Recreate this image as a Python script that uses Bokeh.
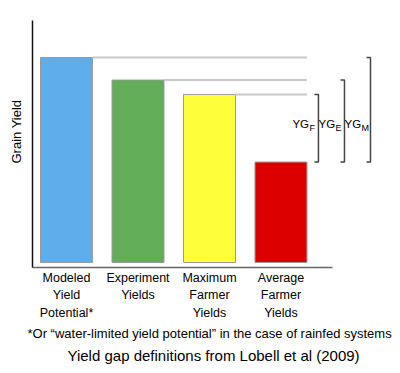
from bokeh.plotting import figure
from bokeh.models import Range1d, FixedTicker, Title, ColumnDataSource
from bokeh.core.properties import value
from bokeh.embed import file_html
from bokeh.resources import INLINE

# ---- data ----
categories = ["Modeled\nYield\nPotential*", "Experiment\nYields", "Maximum\nFarmer\nYields", "Average\nFarmer\nYields"]
yields = [10.0, 8.9, 8.2, 4.9]
colors = ["#5FADEA", "#62AD57", "#FEFE3A", "#DC0000"]
gap_names = ["M", "E", "F"]          # YG_M, YG_E, YG_F (from bar 0,1,2 down to bar 3)
y_label = "Grain Yield"
footnote = "*Or  \u201cwater-limited yield potential\u201d in the case of rainfed systems"
title_text = "Yield gap definitions from Lobell et al (2009)"

FONT = value("Liberation Sans")
xs = list(range(len(yields)))
bar_w = 0.727

p = figure(width=400, height=373, output_backend="svg", toolbar_location=None,
           x_range=Range1d(-0.4755, 4.336), y_range=Range1d(-0.244, 11.805),
           min_border_left=32, min_border_right=24, min_border_top=20, min_border_bottom=106)
p.outline_line_color = None
p.xgrid.visible = False
p.ygrid.visible = False
p.background_fill_color = "white"

# bars
src = ColumnDataSource(dict(x=xs, top=yields, color=colors))
p.vbar(x="x", top="top", bottom=0, width=bar_w, fill_color="color",
       line_color="#9a9a9a", line_width=1, source=src)

# gray guide lines from bar tops to the right edge of last bar
last = len(yields) - 1
p.segment(x0=[i + bar_w / 2 for i in range(last)], y0=yields[:last],
          x1=[last + bar_w / 2] * last, y1=yields[:last],
          line_color="#c8c8c8", line_width=2)

# brackets
bracket_x = [4.252, 3.888, 3.524]
tick = 0.056
for i, bx in enumerate(bracket_x):
    top = yields[i]
    bot = yields[last]
    p.line(x=[bx - tick, bx, bx, bx - tick], y=[top, top, bot, bot],
           line_color="#444444", line_width=1.5)

label_y = [6.75] * 3
p.text(x=bracket_x, y=label_y, text=["YG"] * 3, text_font=FONT,
       text_font_size="11.5px", text_align="left", text_baseline="middle",
       x_offset=-26, text_color="black")
p.text(x=bracket_x, y=label_y, text=gap_names, text_font=FONT,
       text_font_size="9px", text_align="left", text_baseline="middle",
       x_offset=-9, y_offset=4, text_color="black")

# axes
p.xaxis.ticker = FixedTicker(ticks=xs)
p.xaxis.major_label_overrides = {x: c for x, c in zip(xs, categories)}
p.xaxis.bounds = (-0.4755, 3.72)
p.xaxis.major_tick_line_color = None
p.xaxis.minor_tick_line_color = None
p.xaxis.major_tick_out = 0
p.xaxis.major_tick_in = 0
p.xaxis.minor_tick_out = 0
p.xaxis.major_label_standoff = 3
p.xaxis.major_label_text_font = "Liberation Sans"
p.xaxis.major_label_text_font_size = "12.5px"
p.xaxis.major_label_text_color = "black"
p.xaxis.major_label_text_line_height = 1.25
p.xaxis.axis_line_color = "#666666"
p.xaxis.axis_line_width = 1.3

p.yaxis.ticker = FixedTicker(ticks=[])
p.yaxis.major_tick_out = 0
p.yaxis.major_tick_in = 0
p.yaxis.minor_tick_out = 0
p.yaxis.minor_tick_in = 0
p.yaxis.axis_line_color = "#111111"
p.yaxis.axis_line_width = 1.5

p.add_layout(Title(text=y_label, align="left", text_font="Liberation Sans",
                   text_font_size="13px", text_font_style="normal", offset=104,
                   standoff=13, vertical_align="top", text_color="black"), "left")
p.add_layout(Title(text=footnote, align="left", text_font="Liberation Sans",
                   text_font_size="13px", text_font_style="normal", offset=-5,
                   standoff=2, text_color="black"), "below")
p.add_layout(Title(text=title_text, align="left", text_font="Liberation Sans",
                   text_font_size="15px", text_font_style="normal", offset=35,
                   standoff=7, text_color="black"), "below")

open("out.html", "w").write(file_html(p, INLINE))
